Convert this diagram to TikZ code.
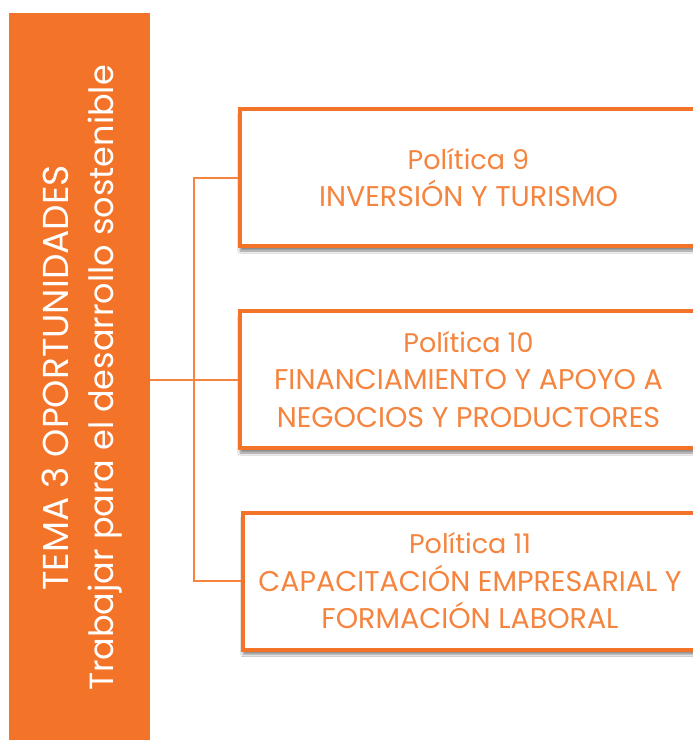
\documentclass[tikz,border=0pt]{standalone}
\usepackage{fontspec}
\setmainfont{Poppins}
\usepackage{xcolor}
\usetikzlibrary{positioning,calc,shadows.blur}

\definecolor{temaorange}{RGB}{243,115,40}
\definecolor{polorange}{RGB}{245,132,62}

\begin{document}
\begin{tikzpicture}[x=1pt,y=-1pt,
            banner/.style={rectangle, fill=temaorange, inner sep=0pt, minimum width=141pt, minimum height=728pt},
            bannertext/.style={text=white, align=center, rotate=90, font=\fontsize{33.5}{45}\selectfont},
            policy/.style={rectangle, draw=temaorange, line width=4pt, fill=white, inner sep=0pt, minimum height=137pt, text=polorange, align=center, font=\fontsize{28.5}{37.5}\selectfont, blur shadow={shadow xshift=0pt, shadow yshift=-5pt, shadow blur steps=6, shadow opacity=45}},
            link/.style={draw=polorange, line width=2pt}]
            \clip (0,0) rectangle (693,740);
            \fill[white] (0,0) rectangle (693,740);

            % Banner on the left
            \node[banner] (tema) at (79.5,377) {};
            \node[bannertext] (temaText) at (82,378) {{\fontsize{36}{45}\selectfont TEMA 3 OPORTUNIDADES}\\Trabajar para el desarrollo sostenible};

            % Policy boxes
            \node[policy, minimum width=457pt] (pol9) at (468.5,177.5) {{\fontsize{27}{37.5}\selectfont Política 9}\\INVERSIÓN Y TURISMO};
            \node[policy, minimum width=457pt] (pol10) at (468.5,379.5) {{\fontsize{27}{37.5}\selectfont Política 10}\\FINANCIAMIENTO Y APOYO A\\NEGOCIOS Y PRODUCTORES};
            \node[policy, minimum width=454pt] (pol11) at (470,581) {{\fontsize{27}{37.5}\selectfont Política 11}\\CAPACITACIÓN EMPRESARIAL Y\\FORMACIÓN LABORAL};

            % Connectors
            \coordinate (fork) at (194,380);
            \draw[link] (tema.east |- pol10.west) -- (pol10.west);
            \draw[link] (pol9.west) -| (fork) |- (pol11.west);
        \end{tikzpicture}
\end{document}
